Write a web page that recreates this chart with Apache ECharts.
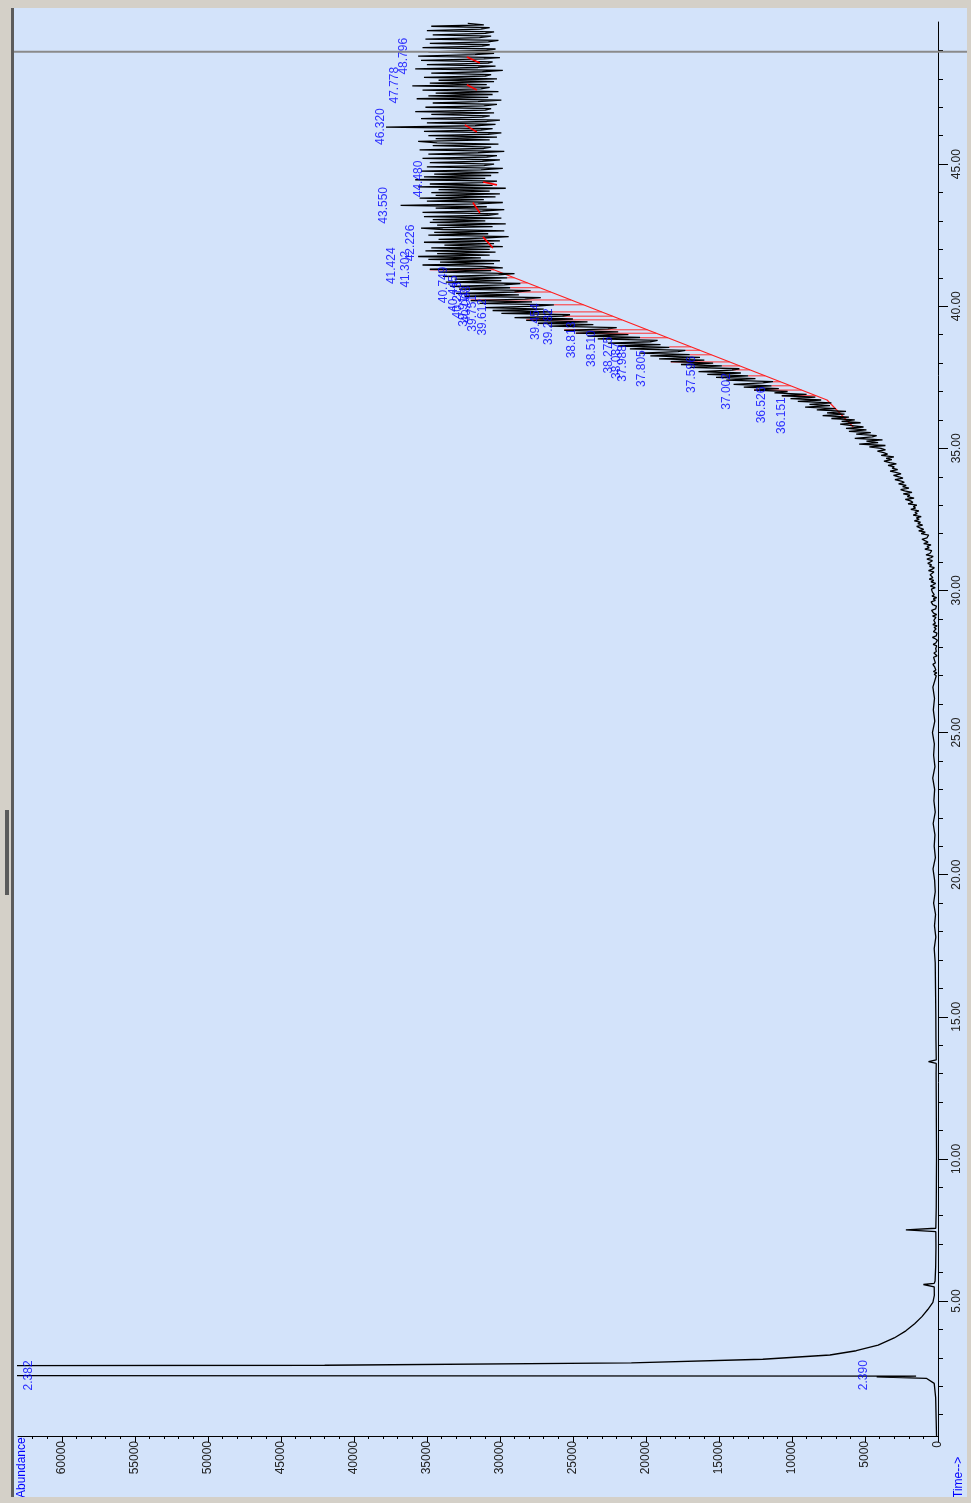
<!DOCTYPE html>
<html>
<head>
<meta charset="utf-8">
<title>TIC</title>
<script src="https://cdn.jsdelivr.net/npm/echarts@6/dist/echarts.min.js"></script>
<style>
  html, body { margin: 0; padding: 0; background: #d4d0c8; }
  #edge { position: absolute; left: 11px; top: 8px; width: 3px; height: 1489px; background: #5c5c5c; }
  #grip { position: absolute; left: 5px; top: 810px; width: 4px; height: 85px; background: #5a5a5a; }
  #chart { position: absolute; left: 14px; top: 8px; width: 953px; height: 1489px; background: #d3e3fa; }
</style>
</head>
<body>
<div id="edge"></div>
<div id="grip"></div>
<div id="chart"></div>
<script>
// time axis (min) and abundance axis ticks
const timeMajor = [5, 10, 15, 20, 25, 30, 35, 40, 45];
const timeMinor = [1, 2, 3, 4, 6, 7, 8, 9, 11, 12, 13, 14, 16, 17, 18, 19, 21, 22, 23, 24, 26, 27, 28, 29,
  31, 32, 33, 34, 36, 37, 38, 39, 41, 42, 43, 44, 46, 47, 48, 49];
const abundMajor = [0, 5000, 10000, 15000, 20000, 25000, 30000, 35000, 40000, 45000, 50000, 55000, 60000];
const abundMinor = [1000, 2000, 3000, 4000, 6000, 7000, 8000, 9000, 11000, 12000, 13000, 14000, 16000, 17000,
  18000, 19000, 21000, 22000, 23000, 24000, 26000, 27000, 28000, 29000, 31000, 32000, 33000, 34000, 36000,
  37000, 38000, 39000, 41000, 42000, 43000, 44000, 46000, 47000, 48000, 49000, 51000, 52000, 53000, 54000,
  56000, 57000, 58000, 59000, 61000, 62000];

// start of the run, irregular points (min, abundance)
const earlyTimes = [0.25, 0.9, 1.6, 2.10, 2.28, 2.33, 2.36, 2.38, 2.70, 2.74, 2.82, 2.95, 3.10, 3.25, 3.45,
  3.70, 3.95, 4.20, 4.45, 4.70, 4.95, 5.20, 5.50, 5.58, 5.62, 5.70, 6.20, 6.90, 7.44, 7.50, 7.56, 8.30,
  9.20, 10.10, 11.00, 12.00, 13.00, 13.36, 13.42, 13.48, 14.20, 15.10, 16.00, 16.90, 17.40, 17.80, 18.20,
  18.60, 19.00, 19.40, 19.80, 20.20, 20.60, 21.00, 21.40, 21.80, 22.20, 22.60, 23.00, 23.40, 23.80, 24.20,
  24.60, 25.00, 25.40, 25.80, 26.20, 26.60];
const earlyAbund = [100, 130, 160, 260, 800, 4200, 1500, 95000, 95000, 42000, 21000, 12000, 7400, 5600, 4100,
  3000, 2200, 1600, 1100, 700, 350, 250, 260, 1000, 260, 200, 160, 140, 150, 2200, 150, 120,
  110, 100, 110, 120, 130, 120, 650, 120, 140, 150, 170, 190, 260, 150, 240,
  170, 300, 190, 230, 340, 180, 260, 210, 330, 190, 280, 230, 360, 210, 300,
  250, 380, 220, 320, 240, 350];

// regular scans from 27.00 min, one value every 0.05 min
const scanStart = 27.0;
const scanStep = 0.05;
const scanAbund = [
  120, 260, 80, 310, 150, 40, 220, 90, 350, 180, 60, 240, 130, 300, 70, 190, 280, 110, 230, 160,
  210, 90, 330, 150, 260, 40, 190, 380, 120, 240, 70, 310, 200, 130, 270, 60, 350, 180, 100, 290,
  230, 140, 380, 90, 300, 200, 440, 160, 260, 110, 360, 230, 470, 180, 320, 90, 410, 260, 150, 390,
  280, 450, 190, 520, 330, 160, 480, 290, 600, 350, 220, 540, 410, 280, 650, 390, 250, 580, 440, 700,
  520, 380, 760, 490, 330, 820, 560, 690, 430, 900, 610, 750, 480, 980, 680, 560, 1100, 760, 890, 640,
  1150, 870, 1320, 980, 1240, 1460, 1050, 1380, 1200, 1620, 1290, 1480, 1150, 1700, 1420, 1580, 1310, 1860, 1540, 1690,
  1450, 2050, 1720, 1880, 2240, 1640, 2100, 1930, 2380, 1780, 2290, 2560, 1990, 2420, 2180, 2700, 2310, 2520, 2950, 2400,
  2680, 3050, 2530, 2890, 3280, 2760, 3140, 2990, 3420, 2850, 3300, 3700, 3160, 3550, 3020, 3890, 3450, 3720, 4150, 3600,
  3900, 4700, 3600, 5400, 4100, 4900, 3800, 5700, 4500, 4200, 5600, 4600, 6100, 4900, 6300, 5100, 5900, 6700, 5300, 6600,
  5700, 7300, 6100, 7900, 6400, 7600, 6300, 8300, 7000, 9100, 7400, 8800, 7300, 9600, 8000, 10100, 8400, 10700, 9000, 11200,
  10300, 12600, 10900, 13300, 11400, 14000, 12000, 11300, 14500, 12500, 15200, 13000, 15800, 13500, 16400, 14100, 13600, 17000, 14800, 17600,
  15400, 18300, 16000, 19100, 16300, 19700, 17000, 20400, 17800, 17300, 21100, 18400, 21900, 19000, 22600, 19700, 19200, 23300, 20400, 24000,
  21200, 24800, 21900, 25600, 22600, 22000, 26600, 23600, 27400, 24000, 28200, 25000, 29000, 25700, 25200, 29900, 26400, 30500, 27000, 31000,
  27500, 26300, 31400, 27800, 32000, 28300, 27200, 32400, 28700, 33000, 29000, 27900, 32800, 29300, 33400, 29700, 28600, 33700, 29900, 33100,
  29500, 33900, 30100, 29000, 34200, 30600, 34800, 29800, 31200, 35300, 30400, 34100, 30000, 34900, 31300, 35600, 30700, 34300, 30300, 35100,
  30700, 34700, 29800, 33800, 30400, 35200, 30000, 34200, 31100, 29400, 34900, 30800, 34500, 29700, 33900, 35400, 30500, 34300, 29600, 34800,
  31000, 34600, 29900, 35200, 30800, 30100, 35300, 31200, 29700, 34400, 30900, 36800, 31500, 29800, 35000, 31100, 35500, 30300, 34400, 30000,
  34700, 30700, 34200, 29600, 35600, 30500, 34800, 31200, 30200, 35800, 31000, 35200, 30600, 34500, 30100, 35400, 31300, 29800, 35000, 31100,
  30400, 34800, 31200, 30000, 35300, 30900, 30200, 34900, 31500, 29700, 35500, 31100, 30600, 34600, 30100, 34300, 35600, 30700, 34400, 30200,
  34900, 30800, 29900, 35200, 31300, 30500, 37800, 31700, 30300, 35000, 30900, 30000, 35400, 31200, 30700, 34700, 30400, 35800, 31000, 30600,
  35100, 31100, 30200, 34600, 31500, 29900, 35700, 30800, 34900, 30500, 34400, 30100, 35300, 31300, 30700, 36000, 30900, 34800, 30400, 34200,
  30200, 35200, 31000, 30600, 34700, 31200, 29800, 35800, 31500, 30300, 35000, 30800, 30500, 35400, 31100, 30000, 35600, 31700, 30400, 34900,
  30900, 30300, 35300, 31200, 30700, 34800, 30800, 30100, 35100, 31400, 30600, 34600, 31000, 30400, 35000, 31300, 30700, 34700, 31100, 32200
];

// integrated peak labels and the abundance where each label sits
const peakLabels = ['2.382', '2.390', '36.151', '36.526', '37.002', '37.596', '37.805', '37.988', '38.087',
  '38.275', '38.510', '38.813', '39.282', '39.454', '39.612', '39.751', '39.911', '40.068', '40.213',
  '40.445', '40.749', '41.302', '41.424', '42.226', '43.550', '44.480', '46.320', '47.778', '48.796'];
const peakLabelAbund = [61700, 4500, 10100, 11500, 13900, 16300, 19700, 21000, 21400,
  22000, 23100, 24500, 26100, 27000, 30600, 31300, 31900, 31700, 32300,
  32600, 33300, 35900, 36800, 35500, 37400, 35000, 37600, 36600, 36000];

// red integration baseline of the big hump, and hatch positions
const baseTimes = [35.75, 36.70, 41.38];
const baseAbund = [5800, 7600, 30900];
const hatchTimes = [36.85, 37.05, 37.20, 37.34, 37.55, 37.76, 37.90, 38.04, 38.29, 38.45, 38.57, 38.89,
  39.05, 39.17, 39.52, 39.65, 39.80, 40.05, 40.22, 40.50, 40.65, 40.82, 41.00, 41.15, 41.28];
// small peak baselines on the plateau: [t1, a1, t2, a2]
const smallBases = [
  [42.05, 30480, 42.44, 31160],
  [43.28, 31370, 43.65, 31850],
  [44.27, 30200, 44.37, 31160],
  [46.13, 31580, 46.38, 32400],
  [47.61, 31580, 47.79, 32260],
  [48.56, 31370, 48.77, 32260]
];
const cursorTime = 48.95;

const scanTimes = scanAbund.map((_, i) => +(scanStart + i * scanStep).toFixed(2));
const trace = earlyTimes.map((t, i) => [earlyAbund[i], t])
  .concat(scanTimes.map((t, i) => [scanAbund[i], t]));

const traceAt = t => {
  let best = 0;
  scanTimes.forEach((s, i) => { if (Math.abs(s - t) < Math.abs(scanTimes[best] - t)) best = i; });
  return scanAbund[best];
};
const baseAt = t => {
  for (let i = 0; i < baseTimes.length - 1; i++) {
    if (t >= baseTimes[i] && t <= baseTimes[i + 1]) {
      const f = (t - baseTimes[i]) / (baseTimes[i + 1] - baseTimes[i]);
      return baseAbund[i] + f * (baseAbund[i + 1] - baseAbund[i]);
    }
  }
  return baseAbund[baseAbund.length - 1];
};

const hatch = [];
hatchTimes.forEach(t => {
  const a = traceAt(t);
  if (a > baseAt(t)) hatch.push([baseAt(t), t], [a, t], '-');
});
const small = [];
smallBases.forEach(b => { small.push([b[1], b[0]], [b[3], b[2]], '-'); });

const FONT = '"Liberation Sans", Arial, sans-serif';
const AB_MAX = 63000;
const T_MIN = 0.25;
const T_MAX = 50;

const myChart = echarts.init(document.getElementById('chart'), null, { renderer: 'canvas' });

const option = {
  animation: false,
  backgroundColor: 'transparent',
  grid: { left: 4, right: 29, top: 14, bottom: 61 },
  xAxis: [
    {
      type: 'value', inverse: true, min: 0, max: AB_MAX, position: 'bottom',
      axisLine: { show: true, onZero: false, lineStyle: { color: '#000', width: 1 } },
      axisTick: { show: true, length: 6, customValues: abundMajor, lineStyle: { color: '#000' } },
      axisLabel: {
        show: true, customValues: abundMajor, rotate: 90, margin: 5,
        color: '#222', fontSize: 12, fontFamily: FONT,
        formatter: v => String(v)
      },
      splitLine: { show: false }
    },
    {
      type: 'value', inverse: true, min: 0, max: AB_MAX, position: 'bottom',
      axisLine: { show: false, onZero: false },
      axisTick: { show: true, length: 3, customValues: abundMinor, lineStyle: { color: '#000' } },
      axisLabel: { show: false },
      splitLine: { show: false }
    }
  ],
  yAxis: [
    {
      type: 'value', min: T_MIN, max: T_MAX, position: 'right',
      axisLine: { show: true, onZero: false, lineStyle: { color: '#000', width: 1 } },
      axisTick: { show: true, length: 10, customValues: timeMajor, lineStyle: { color: '#000' } },
      axisLabel: {
        show: true, customValues: timeMajor, rotate: 90, margin: 13,
        color: '#222', fontSize: 12, fontFamily: FONT,
        formatter: v => v.toFixed(2)
      },
      splitLine: { show: false }
    },
    {
      type: 'value', min: T_MIN, max: T_MAX, position: 'right',
      axisLine: { show: false, onZero: false },
      axisTick: { show: true, length: 5, customValues: timeMinor, lineStyle: { color: '#000' } },
      axisLabel: { show: false },
      splitLine: { show: false }
    }
  ],
  series: [
    {
      name: 'hatch', type: 'line', data: hatch, showSymbol: false, connectNulls: false,
      lineStyle: { color: '#ff3030', width: 1 }, silent: true, z: 2
    },
    {
      name: 'baseline', type: 'line', data: baseTimes.map((t, i) => [baseAbund[i], t]),
      showSymbol: false, lineStyle: { color: '#ff2020', width: 1.2 }, silent: true, z: 2
    },
    {
      name: 'TIC', type: 'line', data: trace, showSymbol: false, clip: true,
      lineStyle: { color: '#000', width: 1.3 }, silent: true, z: 3
    },
    {
      name: 'small', type: 'line', data: small, showSymbol: false, connectNulls: false,
      lineStyle: { color: '#ff0000', width: 1.6 }, silent: true, z: 4
    },
    {
      name: 'labels', type: 'scatter', symbolSize: 1, itemStyle: { color: 'rgba(0,0,0,0)' },
      data: peakLabels.map((s, i) => ({ value: [peakLabelAbund[i], Number(s)], name: s })),
      label: {
        show: true, formatter: p => p.name, position: 'left', distance: 2, rotate: 90,
        align: 'center', verticalAlign: 'bottom',
        color: '#0000ff', fontSize: 12, fontFamily: FONT
      },
      silent: true, z: 5
    }
  ]
};

myChart.setOption(option);

// full-width cursor line and the axis captions
const cy = myChart.convertToPixel({ yAxisIndex: 0 }, cursorTime);
myChart.setOption({
  graphic: [
    {
      type: 'line', shape: { x1: 0, y1: cy, x2: 953, y2: cy },
      style: { stroke: '#8a8a8a', lineWidth: 2 }, z: 10
    },
    {
      type: 'text', x: 8, y: 1490, rotation: Math.PI / 2,
      style: { text: 'Abundance', fill: '#0000ff', font: '12px ' + FONT, align: 'left', verticalAlign: 'middle' }
    },
    {
      type: 'text', x: 945, y: 1490, rotation: Math.PI / 2,
      style: { text: 'Time-->', fill: '#0000ff', font: '12px ' + FONT, align: 'left', verticalAlign: 'middle' }
    }
  ]
});
</script>
</body>
</html>
